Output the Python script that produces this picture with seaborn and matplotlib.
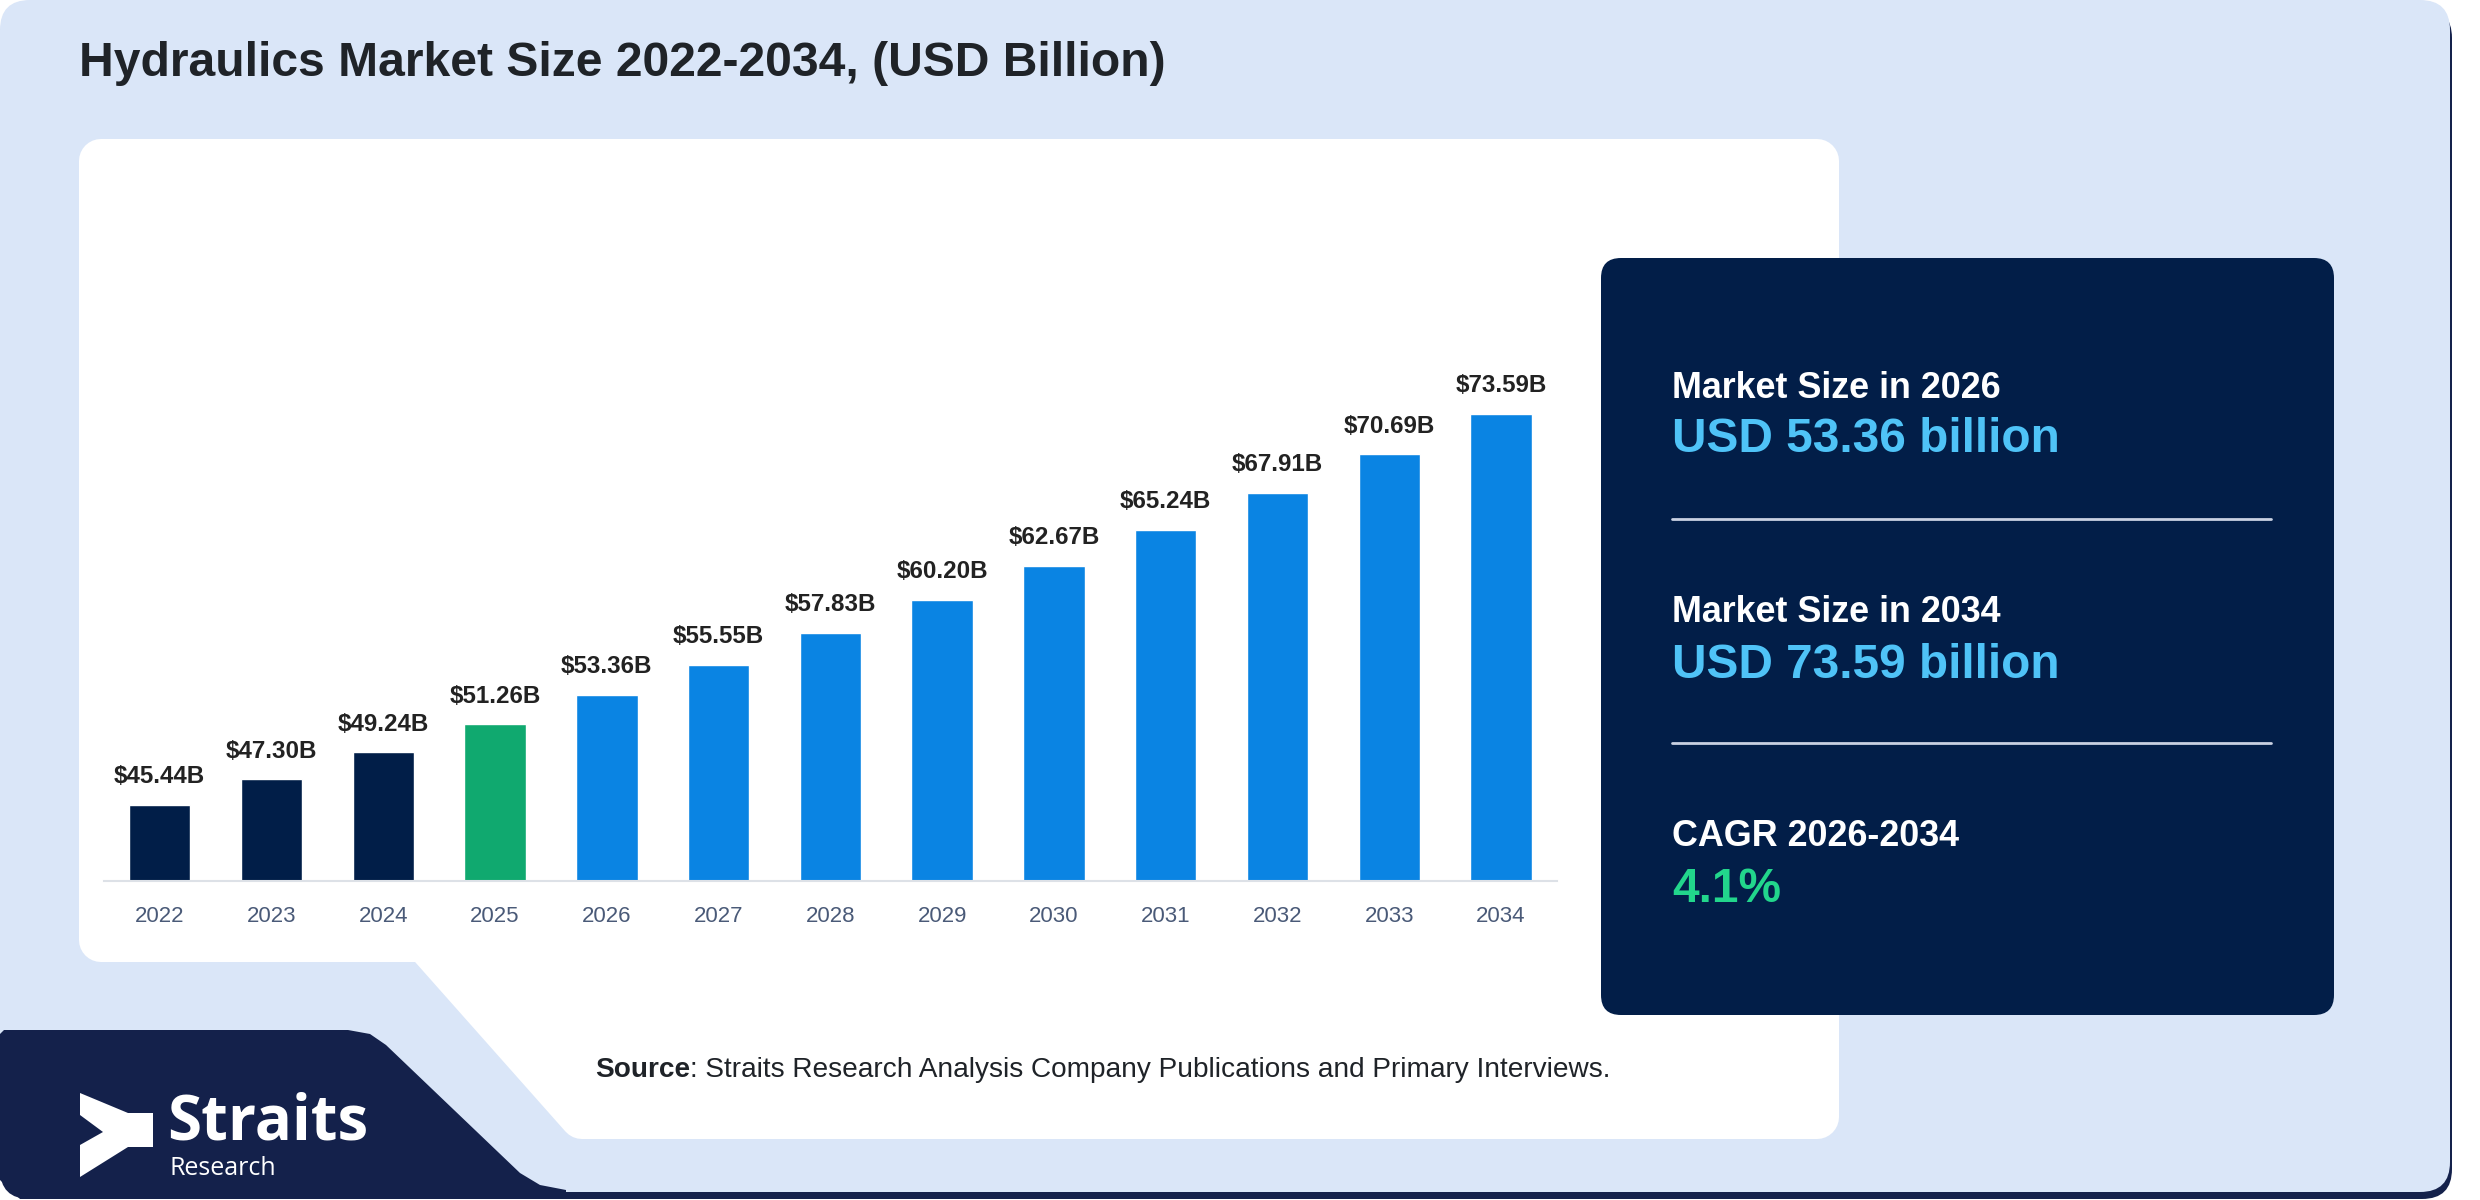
import matplotlib
matplotlib.use("Agg")
import matplotlib.pyplot as plt
import seaborn as sns
from matplotlib.patches import FancyBboxPatch, Polygon

# chart data
years = ['2022', '2023', '2024', '2025', '2026', '2027', '2028',
         '2029', '2030', '2031', '2032', '2033', '2034']
values = [45.44, 47.30, 49.24, 51.26, 53.36, 55.55, 57.83,
          60.20, 62.67, 65.24, 67.91, 70.69, 73.59]
bar_colors = ['#011e48'] * 3 + ['#10a96f'] + ['#0a84e3'] * 9

# side panel figures
panel_titles = ['Market Size in 2026', 'Market Size in 2034', 'CAGR 2026-2034']
panel_values = ['USD 53.36 billion', 'USD 73.59 billion', '4.1%']
panel_colors = ['#4fc3f7', '#4fc3f7', '#22d68c']

sns.set_theme(style='white')
plt.rcParams['font.family'] = ['Liberation Sans', 'DejaVu Sans']

W, H = 2480, 1200
fig = plt.figure(figsize=(W / 100, H / 100), dpi=100)
fig.patch.set_facecolor('white')

# background layer in pixel coordinates (y down)
bg = fig.add_axes([0, 0, 1, 1])
bg.set_xlim(0, W)
bg.set_ylim(H, 0)
bg.axis('off')

navy = '#14214b'
# card shadow, then the light blue card
bg.add_patch(FancyBboxPatch((0, 8), 2452, 1191, boxstyle='round,pad=0,rounding_size=30',
                            fc=navy, ec='none'))
bg.add_patch(FancyBboxPatch((0, 0), 2450, 1192, boxstyle='round,pad=0,rounding_size=30',
                            fc='#dae6f8', ec='none'))
# logo block bottom left
bg.add_patch(Polygon([(0, 1034), (4, 1030), (348, 1030), (370, 1034), (386, 1045),
                      (520, 1173), (540, 1185), (566, 1190), (566, 1199), (20, 1199), (0, 1180)],
                     closed=True, fc=navy, ec='none'))

# white chart card (corners rounded by a thick round-joined stroke)
bg.add_patch(Polygon([(101, 161), (1817, 161), (1817, 1117), (582, 1117), (425, 940), (101, 940)],
                     closed=True, fc='white', ec='white', lw=31.7, joinstyle='round'))

# navy summary panel
bg.add_patch(FancyBboxPatch((1601, 258), 733, 757, boxstyle='round,pad=0,rounding_size=20',
                            fc='#021e48', ec='none'))

bg.text(79, 63, 'Hydraulics Market Size 2022-2034, (USD Billion)', fontsize=34.6,
        fontweight='bold', color='#1f2328', va='center', ha='left')

rows_y = [388, 613, 837]
for t, v, c, y in zip(panel_titles, panel_values, panel_colors, rows_y):
    bg.text(1672, y, t, fontsize=25.8, fontweight='bold', color='white', va='center')
    bg.text(1672, y + 52, v, fontsize=34.4, fontweight='bold', color=c, va='center')
for y in [519, 743]:
    bg.plot([1672, 2271], [y, y], color='#c9d1e2', lw=2)

src = bg.text(595, 1070, 'Source', fontsize=20.2, fontweight='bold', color='#1f2328', va='center')
bg.annotate(': Straits Research Analysis Company Publications and Primary Interviews.',
            xy=(1, 0.5), xycoords=src, fontsize=20.2, color='#1f2328', va='center', ha='left')

# logo
bg.add_patch(Polygon([(80, 1093), (128, 1113), (153, 1113), (153, 1147), (128, 1147),
                      (80, 1177), (80, 1145), (103, 1132), (80, 1115)],
                     closed=True, fc='white', ec='none'))
bg.text(167, 1140, 'Straits', fontsize=44.5, fontweight='bold', color='white',
        family=['Open Sans', 'DejaVu Sans'], va='baseline')
bg.text(169, 1175, 'Research', fontsize=18, color='white',
        family=['Open Sans', 'DejaVu Sans'], va='baseline')

# bar chart
ax = fig.add_axes([103.8 / W, 1 - 880.6 / H, (1557 - 103.8) / W, (880.6 - 325) / H])
ax.patch.set_alpha(0)
sns.barplot(x=years, y=values, hue=years, palette=bar_colors, legend=False,
            width=0.55, saturation=1, ax=ax)
ax.set_ylim(40, 80)
ax.set_xlim(-0.5, 12.5)
for c in ax.containers:
    ax.bar_label(c, fmt=lambda v: f'${v:.2f}B', padding=12, fontsize=17.4,
                 fontweight='bold', color='#222222')
ax.set_yticks([])
ax.set_xlabel('')
ax.set_ylabel('')
for s in ['left', 'right', 'top']:
    ax.spines[s].set_visible(False)
ax.spines['bottom'].set_color('#dde1e7')
ax.spines['bottom'].set_linewidth(1.5)
ax.tick_params(axis='x', length=0, pad=18, labelsize=16, labelcolor='#4a5a78')

fig.savefig('out.png', dpi=100, facecolor='white')
